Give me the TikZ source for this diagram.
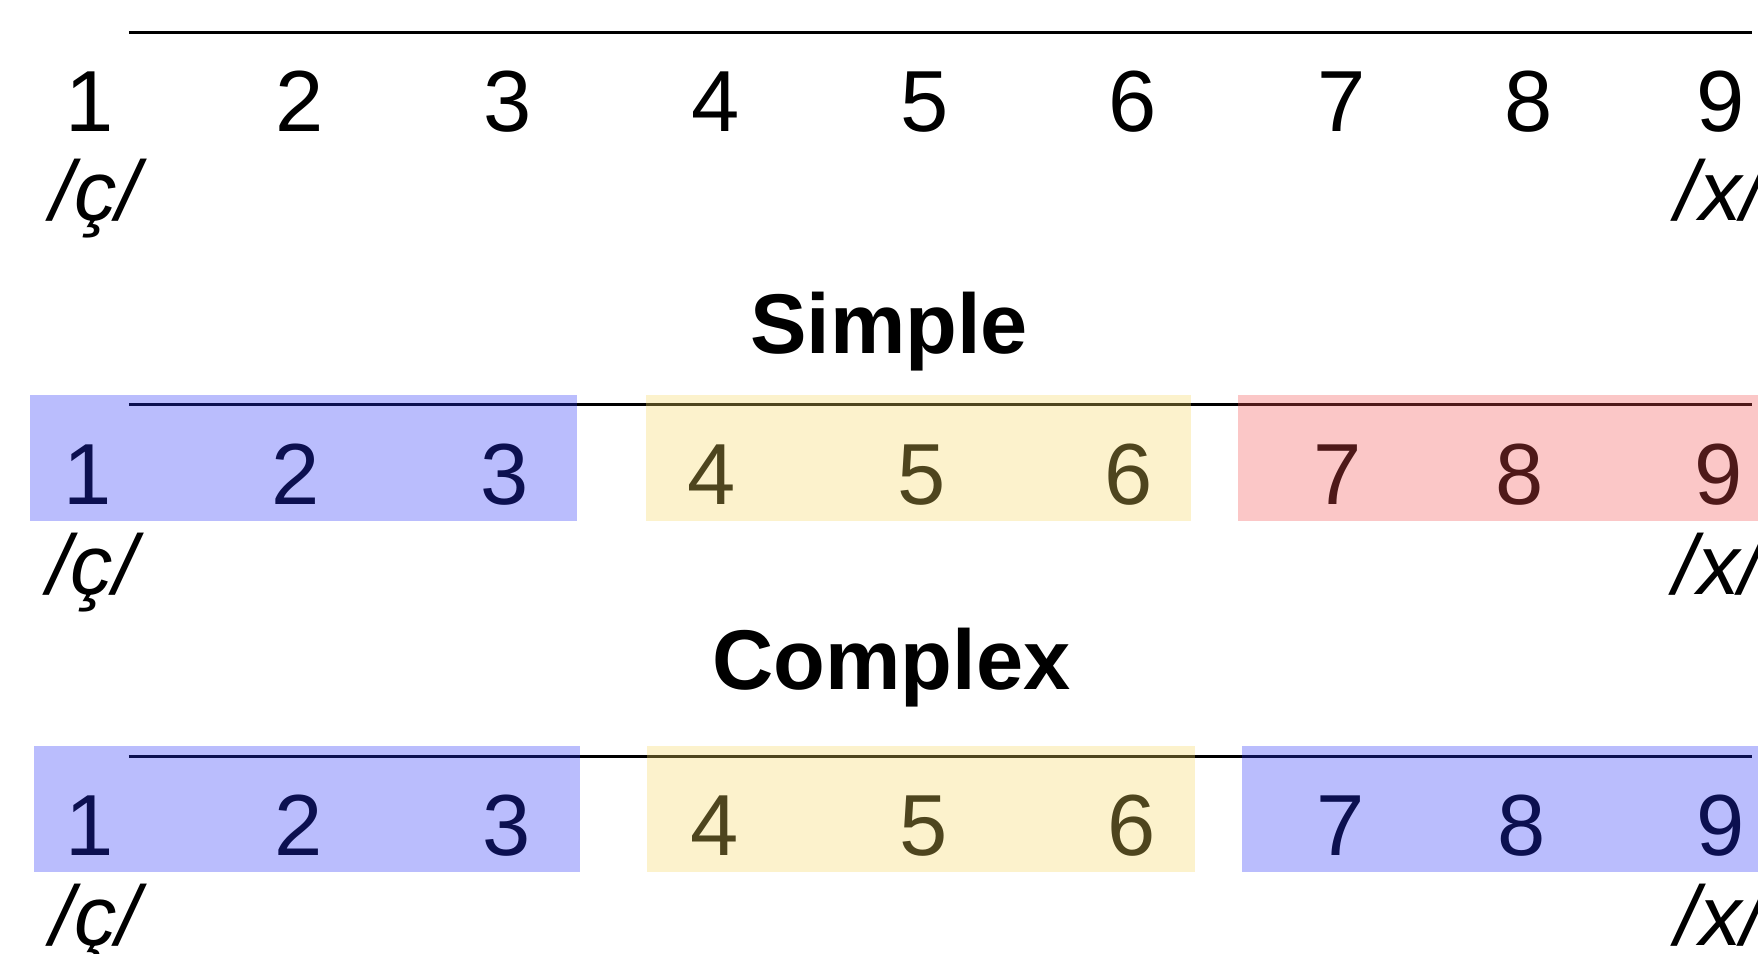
\documentclass[tikz,border=0pt]{standalone}
\usepackage{fontspec}
\setmainfont{Liberation Sans}
\usepackage{xcolor}
\usetikzlibrary{positioning}
\definecolor{bandblue}{RGB}{40,50,250}
\definecolor{bandyellow}{RGB}{245,215,95}
\definecolor{bandred}{RGB}{244,80,80}

\begin{document}
\begin{tikzpicture}[x=0.01cm, y=-0.01cm,
  num/.style={anchor=base, inner sep=0pt, font=\fontsize{22}{26}\selectfont},
  phon/.style={anchor=base, inner sep=0pt, font=\fontsize{21.5}{26}\selectfont\itshape},
  ttl/.style={anchor=base, inner sep=0pt, font=\fontsize{21.5}{26}\selectfont\bfseries},
  axis/.style={line width=0.7pt, black},
  band/.style={fill opacity=0.32}
]
\useasboundingbox (0,0) rectangle (1568,850);
\clip (0,0) rectangle (1568,850);
%% Row 1: plain scale
\coordinate (a1) at (115,29);
\coordinate (b1) at (1563,29);
\draw[axis] (a1) -- (b1);
\foreach \n/\x in {1/80,2/267,3/453,4/638,5/825,6/1010,7/1197,8/1363,9/1535}
  \node[num] (ra\n) at (\x,117) {\n};
\node[phon] (rac) at (85,197) {/ç/};
\node[phon, anchor=base west] (rax) at (1494,197) {/x/};
%% Title
\node[ttl] (simple) at (793,315) {Simple};
%% Row 2: three bands
\coordinate (a2) at (115,361);
\coordinate (b2) at (1563,361);
\draw[axis] (a2) -- (b2);
\foreach \n/\x in {1/78,2/264,3/450,4/635,5/822,6/1007,7/1193,8/1355,9/1533}
  \node[num] (rb\n) at (\x,450) {\n};
\node[phon] (rbc) at (82,530) {/ç/};
\node[phon, anchor=base west] (rbx) at (1492,530) {/x/};
\fill[band, bandblue] (27,352) rectangle (515,465);
\fill[band, bandyellow] (576,352) rectangle (1062,465);
\fill[band, bandred] (1104,352) rectangle (1580,465);
%% Title
\node[ttl] (complex) at (795,615) {Complex};
%% Row 3: blue at both ends
\coordinate (a3) at (115,675);
\coordinate (b3) at (1563,675);
\draw[axis] (a3) -- (b3);
\foreach \n/\x in {1/80,2/266,3/452,4/637,5/824,6/1009,7/1196,8/1357,9/1535}
  \node[num] (rc\n) at (\x,763) {\n};
\node[phon] (rcc) at (85,843) {/ç/};
\node[phon, anchor=base west] (rcx) at (1494,843) {/x/};
\fill[band, bandblue] (30,665) rectangle (517,778);
\fill[band, bandyellow] (577,665) rectangle (1066,778);
\fill[band, bandblue] (1108,665) rectangle (1580,778);
\end{tikzpicture}
\end{document}
